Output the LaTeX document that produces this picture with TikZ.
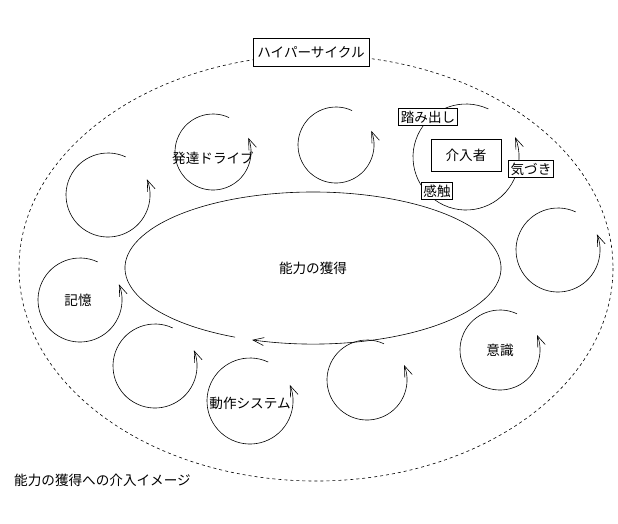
\documentclass[tikz,border=0pt]{standalone}
\usepackage{fontspec}
\setmainfont{Noto Sans CJK JP}
\usetikzlibrary{arrows.meta}
\begin{document}
\begin{tikzpicture}[x=1pt,y=-1pt,
  lbl/.style={font=\fontsize{13.6}{15}\selectfont, inner sep=2pt},
  boxlbl/.style={lbl, draw, fill=white, line width=0.7pt},
  cyc/.style={line width=0.6pt, -{Straight Barb[length=11pt,width=8pt]}},
  every node/.style={text=black}]
\useasboundingbox (0,0) rectangle (618,523);
\fill[white] (0,0) rectangle (618,523);
% outer dashed ellipse
\draw[dashed, line width=0.6pt] (316,268) ellipse [x radius=297, y radius=213];
% central ellipse with arrow
\draw[cyc] (313,268) ++(114.5:188 and 76) arc[start angle=114.5, end angle=468.9, x radius=188, y radius=76];
% cycles
\foreach \cx/\cy/\r in {213/152/38, 336/145/38, 466/157/53, 558/250/42, 500/350/40, 367/380/40, 250/401/43, 155/366/42, 80/300/42, 108/195/42}{
  \draw[cyc] (\cx,\cy) ++(-65:\r) arc[start angle=-65, end angle=-382, radius=\r];
}
\node[boxlbl, minimum width=116pt, minimum height=28pt] (hc) at (311,52) {ハイパーサイクル};
\node[lbl] (cap) at (313,268) {能力の獲得};
\node[lbl] (dd) at (213,158) {発達ドライブ};
\node[lbl] (ki) at (78,300) {記憶};
\node[lbl] (is) at (500,350) {意識};
\node[lbl] (ds) at (250,403) {動作システム};
\node[boxlbl, minimum width=70pt, minimum height=32pt] (kn) at (466,155) {介入者};
\node[boxlbl] (fm) at (428,117) {踏み出し};
\node[boxlbl] (kz) at (531,169) {気づき};
\node[boxlbl] (ks) at (437,191) {感触};
\node[lbl, anchor=west] (cp) at (12,480) {能力の獲得への介入イメージ};
\end{tikzpicture}
\end{document}
